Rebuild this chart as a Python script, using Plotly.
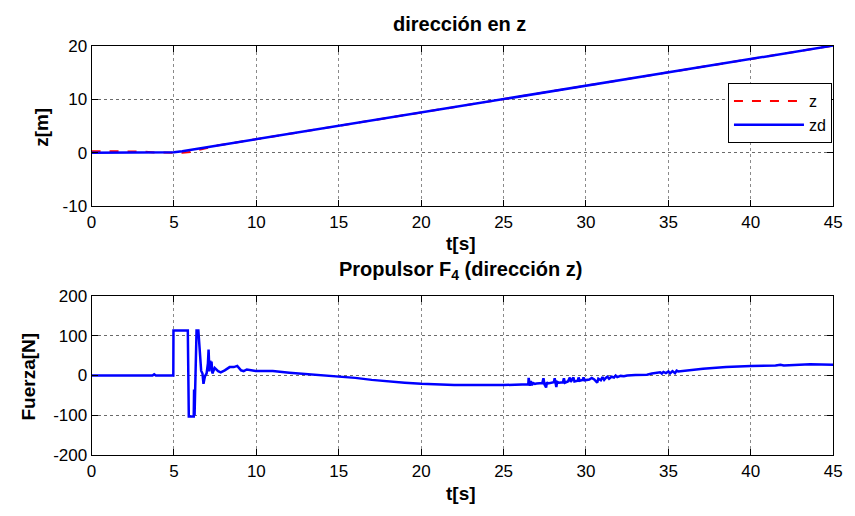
import plotly.graph_objects as go

# ---- top subplot data: dirección en z ----
t_z = [0, 2, 3, 4, 5, 5.5, 6, 6.5, 7, 7.5, 45]
z_vals = [0.3, 0.3, 0.25, 0.05, 0.0, 0.02, 0.15, 0.5, 0.95, 1.3, 20]
t_zd = [0, 4, 4.5, 5, 5.5, 6, 7, 45]
zd_vals = [0, 0, 0.02, 0.1, 0.3, 0.55, 1.05, 20]

# ---- bottom subplot data: Propulsor F4 ----
t_f = [0, 3.7, 3.8, 3.9, 4.96, 4.97, 5.84, 5.9, 6.2, 6.22, 6.25, 6.28, 6.3,
       6.37, 6.48, 6.6, 6.65, 6.73, 6.79, 6.88, 6.98, 7.06, 7.1, 7.15, 7.2, 7.24, 7.28,
       7.33, 7.47, 7.68, 7.84, 8.08, 8.38, 8.63, 8.84, 9.07, 9.23, 9.42, 9.7, 9.96, 10.9,
       11, 12, 13, 14, 15, 16, 17, 18, 19, 20, 21, 22, 25, 26.4,
       26.5, 26.52, 26.56, 26.6, 26.65, 26.72, 26.8, 26.9, 27.0, 27.2, 27.35, 27.42, 27.48,
       27.58, 27.63, 27.7, 27.9, 28.05, 28.1, 28.15, 28.2, 28.25, 28.35, 28.6, 28.66, 28.72,
       28.9, 29.02, 29.08, 29.24, 29.3, 29.5, 29.55, 29.62, 29.8, 29.85, 29.92, 30.2, 30.35,
       30.5, 30.68, 30.75, 30.9, 31.0, 31.1, 31.2, 31.3, 31.4, 31.55, 31.7, 31.8, 31.9, 32.1,
       32.3, 32.5, 33.0, 33.7, 34.0, 34.3, 34.5, 34.6, 34.7, 34.85, 35.0, 35.1, 35.25, 35.4,
       35.5, 35.6, 36.5, 37.1, 38.5, 39.7, 40.0, 41.5, 41.8, 42.0, 43.5, 43.6, 45]
f_vals = [0, 0, 3, 0, 0, 113, 113, -103, -103, -35, -100, -25, -40,
          113, 113, 40, 12, 5, -21, -2, 5, 30, 65, 10, 37, 21, 35,
          5, 19, 11, 8, 13, 21, 21, 24, 13, 11, 15, 13, 11, 11,
          11, 7, 4, 1, -2, -6, -11, -15, -18, -21, -22, -24, -24, -23,
          -22, -6, -18, -26, -14, -24, -19, -21, -20, -20, -19, -7, -22,
          -30, -17, -20, -19, -17, -7, -27, -29, -16, -18, -17, -7, -18,
          -15, -5, -16, -5, -15, -13, -5, -13, -11, -5, -12, -10, -6,
          -10, -18, -8, -12, -4, -11, -6, -3, -8, -3, -5, 0, -4, -1,
          -2, 0, 1, 2, 5, 6, 8, 5, 9, 6, 10, 5, 11, 6,
          12, 10, 15, 17, 21, 24, 24, 25, 27, 25, 27, 28, 27]

x_ticks = [0, 5, 10, 15, 20, 25, 30, 35, 40, 45]
x_tick_labels = ["0", "5", "10", "15", "20", "25", "30", "35", "40", "45"]
y1_ticks = [-10, 0, 10, 20]
y1_tick_labels = ["-10", "0", "10", "20"]
y2_ticks = [-200, -100, 0, 100, 200]
y2_tick_labels = ["-200", "-100", "0", "100", "200"]

W, H = 855, 516
FONT = "Liberation Sans, Arial, sans-serif"

fig = go.Figure()
fig.add_trace(go.Scatter(x=t_z, y=z_vals, mode="lines", name="z",
                         line=dict(color="#FF0000", width=2, dash="dash"),
                         xaxis="x", yaxis="y"))
fig.add_trace(go.Scatter(x=t_zd, y=zd_vals, mode="lines", name="zd",
                         line=dict(color="#0000FF", width=2.5),
                         xaxis="x", yaxis="y"))
fig.add_trace(go.Scatter(x=t_f, y=f_vals, mode="lines", name="F4", showlegend=False,
                         line=dict(color="#0000FF", width=2.5),
                         xaxis="x2", yaxis="y2"))

def px_x(p):
    return p / W

def px_y(p):
    return (H - p) / H

common_x = dict(range=[0, 45], tickvals=x_ticks, ticktext=x_tick_labels, showline=True,
                mirror="ticks", linecolor="black", linewidth=1, ticks="inside", ticklen=6,
                tickcolor="black", showgrid=True, gridcolor="#8a8a8a", griddash="dot",
                gridwidth=1, zeroline=False, tickfont=dict(size=17, color="black"),
                domain=[px_x(88), px_x(842)])
common_y = dict(showline=True, mirror="ticks", linecolor="black", linewidth=1,
                ticks="inside", ticklen=6, tickcolor="black", showgrid=True,
                gridcolor="#6a6a6a", griddash="dot", gridwidth=1, zeroline=False,
                tickfont=dict(size=17, color="black"))

fig.update_layout(
    width=W, height=H,
    margin=dict(l=0, r=0, t=0, b=0),
    paper_bgcolor="white", plot_bgcolor="white",
    font=dict(family=FONT, color="black"),
    xaxis=dict(**common_x, anchor="y"),
    yaxis=dict(**common_y, range=[-10, 20], tickvals=y1_ticks, ticktext=y1_tick_labels,
               domain=[px_y(205), px_y(38)], anchor="x"),
    xaxis2=dict(**common_x, anchor="y2"),
    yaxis2=dict(**common_y, range=[-200, 200], tickvals=y2_ticks, ticktext=y2_tick_labels,
                domain=[px_y(463.3), px_y(297.7)], anchor="x2"),
    legend=dict(x=px_x(735), y=px_y(77), xanchor="left", yanchor="top",
                bgcolor="white", bordercolor="black", borderwidth=1,
                font=dict(size=16, color="black"), tracegroupgap=0,
                itemwidth=70),
    showlegend=True,
)

ann = [
    dict(text="<b>dirección en z</b>", x=px_x(462), y=px_y(16), size=20, angle=0),
    dict(text="<b>t[s]</b>", x=px_x(464), y=px_y(243), size=19, angle=0),
    dict(text="<b>z[m]</b>", x=px_x(37), y=px_y(123), size=19, angle=-90),
    dict(text="<b>Propulsor F<sub>4</sub> (dirección z)</b>", x=px_x(463), y=px_y(272), size=20, angle=0),
    dict(text="<b>t[s]</b>", x=px_x(464), y=px_y(503), size=19, angle=0),
    dict(text="<b>Fuerza[N]</b>", x=px_x(24), y=px_y(382), size=19, angle=-90),
]
for a in ann:
    fig.add_annotation(text=a["text"], x=a["x"], y=a["y"], xref="paper", yref="paper",
                       xanchor="center", yanchor="middle", showarrow=False,
                       textangle=a["angle"], font=dict(size=a["size"], family=FONT, color="black"))

fig.write_html("out.html")
